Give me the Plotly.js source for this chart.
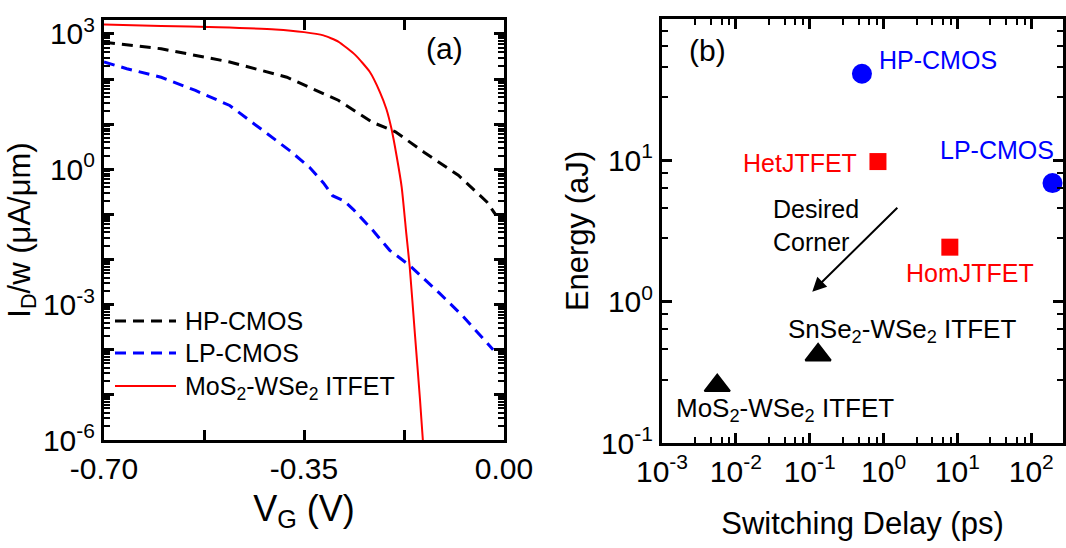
<!DOCTYPE html>
<html>
<head>
<meta charset="utf-8">
<script src="https://cdn.plot.ly/plotly-3.0.1.min.js"></script>
<style>html,body{margin:0;padding:0;background:#fff;}#chart{width:1066px;height:548px;}</style>
</head>
<body>
<div id="chart"></div>
<script>
// ---------- Panel (a): transfer characteristics ----------
const vgHP = [-0.70, -0.60, -0.48, -0.38, -0.29, -0.23, -0.19, -0.14, -0.08, -0.03, -0.015];
const idHP = [660, 470, 240, 110, 34, 11, 6.8, 2.4, 0.74, 0.19, 0.10];

const vgLP = [-0.70, -0.66, -0.60, -0.54, -0.48, -0.425, -0.375, -0.34, -0.316, -0.30, -0.28, -0.264, -0.23, -0.20, -0.165, -0.113, -0.071, -0.019];
const idLP = [240, 170, 110, 56, 26, 7.9, 2.6, 1.1, 0.5, 0.26, 0.2, 0.13, 0.045, 0.016, 0.0074, 0.0018, 0.00054, 0.0001];

const vgIT = [-0.70, -0.60, -0.50, -0.40, -0.35, -0.316, -0.29, -0.26, -0.235, -0.217, -0.206, -0.197, -0.188, -0.179, -0.171, -0.165, -0.156, -0.147, -0.142, -0.139];
const idIT = [1620, 1510, 1410, 1260, 1100, 930, 680, 340, 145, 51, 22, 8, 2.0, 0.4, 0.038, 0.0069, 0.00023, 7.9e-6, 1e-6, 4e-7];

const seriesNames = ['HP-CMOS', 'LP-CMOS', 'MoS<sub>2</sub>-WSe<sub>2</sub> ITFET'];

// ---------- Panel (b): energy vs delay ----------
const cmosNames = ['HP-CMOS', 'LP-CMOS'];
const cmosDelay = [0.51, 194];
const cmosEnergy = [41, 6.9];

const jtfetNames = ['HetJTFET', 'HomJTFET'];
const jtfetDelay = [0.84, 7.9];
const jtfetEnergy = [9.8, 2.43];

const itfetNames = ['SnSe<sub>2</sub>-WSe<sub>2</sub> ITFET', 'MoS<sub>2</sub>-WSe<sub>2</sub> ITFET'];
const itfetDelay = [0.13, 0.0056];
const itfetEnergy = [0.42, 0.255];

// tick values / labels
const vgLabelVals = [-0.70, -0.35, 0.0];
const vgLabelText = ['-0.70', '-0.35', '0.00'];
const vgExtraTicks = [-0.525, -0.175];
const idDecadeExp = [-6, -5, -4, -3, -2, -1, 0, 1, 2, 3];
const delayExp = [-3, -2, -1, 0, 1, 2];
const energyExp = [-1, 0, 1, 2];
const minorLeft = [2, 3, 4, 5, 6, 7, 8, 9];
const minorRight = [2.8, 4.6, 6.4, 8.2];

function pow10(list) { return list.map(k => Math.pow(10, k)); }
function expLabels(list) { return list.map(k => '10<sup>' + k + '</sup>'); }
function minorTicks(k0, k1, mults, maxV) {
  const a = [];
  for (let k = k0; k <= k1; k++) for (const m of mults) { const v = m * Math.pow(10, k); if (v <= maxV) a.push(v); }
  return a;
}

const FONT = 'Liberation Sans, Arial, sans-serif';
const BLUE = '#0000ff', RED = '#ff0000', BLACK = '#000000';

const traces = [
  { x: vgHP, y: idHP, xaxis: 'x', yaxis: 'y', mode: 'lines', name: seriesNames[0],
    line: { color: BLACK, width: 3, dash: '11px,7px' }, showlegend: false },
  { x: vgLP, y: idLP, xaxis: 'x', yaxis: 'y', mode: 'lines', name: seriesNames[1],
    line: { color: BLUE, width: 3, dash: '11px,7px' }, showlegend: false },
  { x: vgIT, y: idIT, xaxis: 'x', yaxis: 'y', mode: 'lines', name: seriesNames[2],
    line: { color: RED, width: 2, shape: 'spline', smoothing: 0.5 }, showlegend: false },
  { x: cmosDelay, y: cmosEnergy, text: cmosNames, xaxis: 'x2', yaxis: 'y2', mode: 'markers', name: 'CMOS',
    marker: { symbol: 'circle', size: 20, color: BLUE }, showlegend: false, cliponaxis: false },
  { x: jtfetDelay, y: jtfetEnergy, text: jtfetNames, xaxis: 'x2', yaxis: 'y2', mode: 'markers', name: 'JTFET',
    marker: { symbol: 'square', size: 17, color: RED }, showlegend: false },
  { x: itfetDelay, y: itfetEnergy, text: itfetNames, xaxis: 'x2', yaxis: 'y2', mode: 'markers', name: 'ITFET',
    marker: { symbol: 'triangle-up', size: 22, color: BLACK, line: { color: BLACK, width: 2 } }, showlegend: false }
];

const axisCommon = {
  showline: true, linecolor: BLACK, linewidth: 3, mirror: 'allticks',
  ticks: 'inside', tickcolor: BLACK, tickwidth: 2.5, ticklen: 10,
  showgrid: false, zeroline: false,
  tickfont: { family: FONT, size: 30, color: BLACK }
};
const minorCommon = { ticks: 'inside', ticklen: 6, tickwidth: 2, tickcolor: BLACK, showgrid: false, tickmode: 'array' };

const L = 104, R = 504, T = 20, B = 440;
const L2 = 662, R2 = 1063, T2 = 19, B2 = 443;
const W = 1066, H = 548;

const layout = {
  width: W, height: H,
  margin: { l: 0, r: 0, t: 0, b: 0 },
  paper_bgcolor: '#fff', plot_bgcolor: '#fff',
  font: { family: FONT, color: BLACK },
  showlegend: false,
  xaxis: Object.assign({}, axisCommon, {
    domain: [L / W, R / W], anchor: 'y', range: [-0.70, 0.0],
    tickmode: 'array', tickvals: vgLabelVals, ticktext: vgLabelText,
    minor: Object.assign({}, minorCommon, { ticklen: 10, tickwidth: 2.5, tickvals: vgExtraTicks }),
    title: { text: 'V<sub>G</sub> (V)', font: { family: FONT, size: 36 }, standoff: 12 }
  }),
  yaxis: Object.assign({}, axisCommon, {
    domain: [1 - B / H, 1 - T / H], anchor: 'x', type: 'log', range: [-6, 3.31],
    tickmode: 'array', tickvals: pow10(idDecadeExp),
    ticktext: idDecadeExp.map(k => (k % 3 === 0) ? '10<sup>' + k + '</sup>' : ''),
    minor: Object.assign({}, minorCommon, { tickvals: minorTicks(-6, 3, minorLeft, 2000) }),
    title: { text: 'I<sub>D</sub>/w (μA/μm)', font: { family: FONT, size: 31 }, standoff: 4 }
  }),
  xaxis2: Object.assign({}, axisCommon, {
    domain: [L2 / W, R2 / W], anchor: 'y2', type: 'log', range: [-3, 2.43],
    tickmode: 'array', tickvals: pow10(delayExp), ticktext: expLabels(delayExp),
    minor: Object.assign({}, minorCommon, { tickvals: minorTicks(-3, 2, minorRight, 260) }),
    title: { text: 'Switching Delay (ps)', font: { family: FONT, size: 31 }, standoff: 26 }
  }),
  yaxis2: Object.assign({}, axisCommon, {
    domain: [1 - B2 / H, 1 - T2 / H], anchor: 'x2', type: 'log', range: [-1, 2],
    tickmode: 'array', tickvals: pow10(energyExp), ticktext: expLabels(energyExp),
    minor: Object.assign({}, minorCommon, { tickvals: minorTicks(-1, 1, minorRight, 100) }),
    title: { text: 'Energy (aJ)', font: { family: FONT, size: 31 }, standoff: 4 }
  }),
  shapes: [
    { type: 'line', xref: 'paper', yref: 'paper', x0: 115 / W, x1: 176 / W, y0: 1 - 321 / H, y1: 1 - 321 / H,
      line: { color: BLACK, width: 3, dash: '11px,7px' } },
    { type: 'line', xref: 'paper', yref: 'paper', x0: 115 / W, x1: 176 / W, y0: 1 - 353 / H, y1: 1 - 353 / H,
      line: { color: BLUE, width: 3, dash: '11px,7px' } },
    { type: 'line', xref: 'paper', yref: 'paper', x0: 115 / W, x1: 176 / W, y0: 1 - 386 / H, y1: 1 - 386 / H,
      line: { color: RED, width: 2 } }
  ],
  annotations: [
    // legend text
    { xref: 'paper', yref: 'paper', x: 183 / W, y: 1 - 321 / H, xanchor: 'left', yanchor: 'middle', showarrow: false,
      text: seriesNames[0], font: { family: FONT, size: 25, color: BLACK } },
    { xref: 'paper', yref: 'paper', x: 183 / W, y: 1 - 353 / H, xanchor: 'left', yanchor: 'middle', showarrow: false,
      text: seriesNames[1], font: { family: FONT, size: 25, color: BLACK } },
    { xref: 'paper', yref: 'paper', x: 183 / W, y: 1 - 388 / H, xanchor: 'left', yanchor: 'middle', showarrow: false,
      text: seriesNames[2], font: { family: FONT, size: 25, color: BLACK } },
    // panel labels
    { xref: 'x', yref: 'y', x: -0.105, y: 2.673, showarrow: false, text: '(a)', font: { family: FONT, size: 30, color: BLACK } },
    { xref: 'x2', yref: 'y2', x: -2.38, y: 1.779, showarrow: false, text: '(b)', font: { family: FONT, size: 30, color: BLACK } },
    // point labels
    { xref: 'x2', yref: 'y2', x: -0.091, y: 1.707, xanchor: 'left', showarrow: false, text: cmosNames[0], font: { family: FONT, size: 25, color: BLUE } },
    { xref: 'x2', yref: 'y2', x: 2.34, y: 1.071, xanchor: 'right', showarrow: false, text: cmosNames[1], font: { family: FONT, size: 25, color: BLUE } },
    { xref: 'x2', yref: 'y2', x: -0.338, y: 0.984, xanchor: 'right', showarrow: false, text: jtfetNames[0], font: { family: FONT, size: 25, color: RED } },
    { xref: 'x2', yref: 'y2', x: 1.168, y: 0.204, xanchor: 'center', showarrow: false, text: jtfetNames[1], font: { family: FONT, size: 25, color: RED } },
    { xref: 'x2', yref: 'y2', x: 0.252, y: -0.202, xanchor: 'center', showarrow: false, text: itfetNames[0], font: { family: FONT, size: 26, color: BLACK } },
    { xref: 'x2', yref: 'y2', x: -1.337, y: -0.76, xanchor: 'center', showarrow: false, text: itfetNames[1], font: { family: FONT, size: 26, color: BLACK } },
    { xref: 'x2', yref: 'y2', x: -1.518, y: 0.539, xanchor: 'left', align: 'left', showarrow: false, text: 'Desired<br>Corner', font: { family: FONT, size: 25, color: BLACK } },
    // arrow toward the desired corner
    { xref: 'x2', yref: 'y2', axref: 'x2', ayref: 'y2', x: -0.965, y: 0.071, ax: 0.207, ay: 0.675,
      text: '', showarrow: true, arrowhead: 2, arrowsize: 1.4, arrowwidth: 2, arrowcolor: BLACK }
  ]
};

Plotly.newPlot('chart', traces, layout, { displayModeBar: false, responsive: false });
</script>
</body>
</html>
